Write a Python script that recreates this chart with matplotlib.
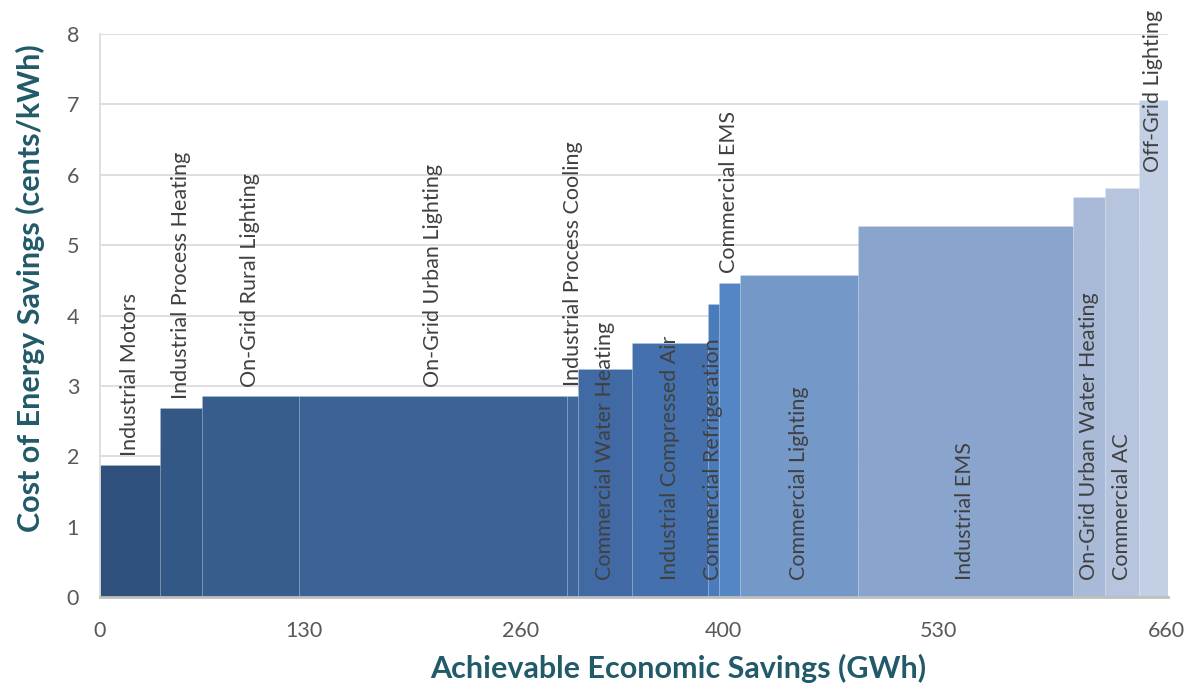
import matplotlib
matplotlib.use("Agg")
import matplotlib.pyplot as plt
import numpy as np

# Energy-efficiency measures, ordered by cost (supply curve)
measures = [
    "Industrial Motors", "Industrial Process Heating", "On-Grid Rural Lighting",
    "On-Grid Urban Lighting", "Industrial Process Cooling", "Commercial Water Heating",
    "Industrial Compressed Air", "Commercial Refrigeration", "Commercial EMS",
    "Commercial Lighting", "Industrial EMS", "On-Grid Urban Water Heating",
    "Commercial AC", "Off-Grid Lighting",
]
savings_gwh = [37, 26, 60, 166, 7, 33, 47, 7, 13, 73, 133, 20, 21, 18]
cost_cents = [1.87, 2.68, 2.85, 2.85, 2.86, 3.24, 3.61, 4.17, 4.46, 4.57, 5.27, 5.69, 5.81, 7.06]

x_tick_labels = ["0", "130", "260", "400", "530", "660"]
x_tick_pos = [0, 126, 260, 386, 519, 660]
y_ticks = [0, 1, 2, 3, 4, 5, 6, 7, 8]

# label sits at the bar base (inside) or above the bar top
label_inside = [False, False, False, False, False, True, True, True, False,
                True, True, True, True, False]

colors = ["#2F507B", "#335886", "#375D8D", "#3B6395", "#3E679B", "#4169A3",
          "#4471AE", "#4A7BBB", "#5485C4", "#7498C8", "#8AA5CD", "#A9BAD9",
          "#B6C4DE", "#C3CFE4"]

plt.rcParams['font.family'] = ['Lato', 'DejaVu Sans']

W, H = 1192, 687
fig = plt.figure(figsize=(W / 100, H / 100), dpi=100)
ax = fig.add_axes([100 / W, (H - 597) / H, (1168 - 100) / W, (597 - 34) / H])

lefts = np.concatenate([[0], np.cumsum(savings_gwh)[:-1]])
ax.bar(lefts, cost_cents, width=savings_gwh, align="edge", color=colors,
       edgecolor=(1, 1, 1, 0.12), linewidth=0.6, zorder=2)

ax.set_xlim(0, sum(savings_gwh))
ax.set_ylim(0, 8)
ax.set_yticks(y_ticks)
ax.set_xticks(x_tick_pos)
ax.set_xticklabels(x_tick_labels)
ax.tick_params(axis="both", length=0, labelsize=15.5, labelcolor="#595959")
ax.tick_params(axis="x", pad=17)
ax.tick_params(axis="y", pad=15)
ax.grid(axis="y", color="#D9D9D9", linewidth=1.2, zorder=0)
ax.set_axisbelow(True)
for s in ("top", "right"):
    ax.spines[s].set_visible(False)
ax.spines["left"].set_color("#D9D9D9")
ax.spines["left"].set_linewidth(1.2)
ax.spines["bottom"].set_color("#BFBFBF")
ax.spines["bottom"].set_linewidth(2)
ax.spines["bottom"].set_zorder(3)

texts = []
for left, w, c, name, inside in zip(lefts, savings_gwh, cost_cents, measures, label_inside):
    xc = left + w / 2
    if inside:
        t = ax.annotate(name, (xc, 0), xytext=(0, 12), textcoords="offset points",
                        rotation=90, ha="center", va="bottom", fontsize=15.5,
                        color="#404040", zorder=4)
    else:
        t = ax.annotate(name, (xc, c), xytext=(0, 7), textcoords="offset points",
                        rotation=90, ha="center", va="bottom", fontsize=15.5,
                        color="#404040", zorder=4, annotation_clip=False)
    texts.append(t)

# keep labels inside the figure
fig.canvas.draw()
renderer = fig.canvas.get_renderer()
for t in texts:
    bb = t.get_window_extent(renderer)
    limit = H - 10
    if bb.y1 > limit:
        dx, dy = t.xyann
        t.xyann = (dx, dy - (bb.y1 - limit) * 72 / fig.dpi)

teal = "#215A69"
fig.text(30 / W, (H - 288) / H, "Cost of Energy Savings (cents/kWh)", rotation=90,
         ha="center", va="center", fontsize=22, fontweight="bold", color=teal)
fig.text(678 / W, (H - 668) / H, "Achievable Economic Savings (GWh)",
         ha="center", va="center", fontsize=22, fontweight="bold", color=teal)

fig.savefig("out.png", dpi=100)
